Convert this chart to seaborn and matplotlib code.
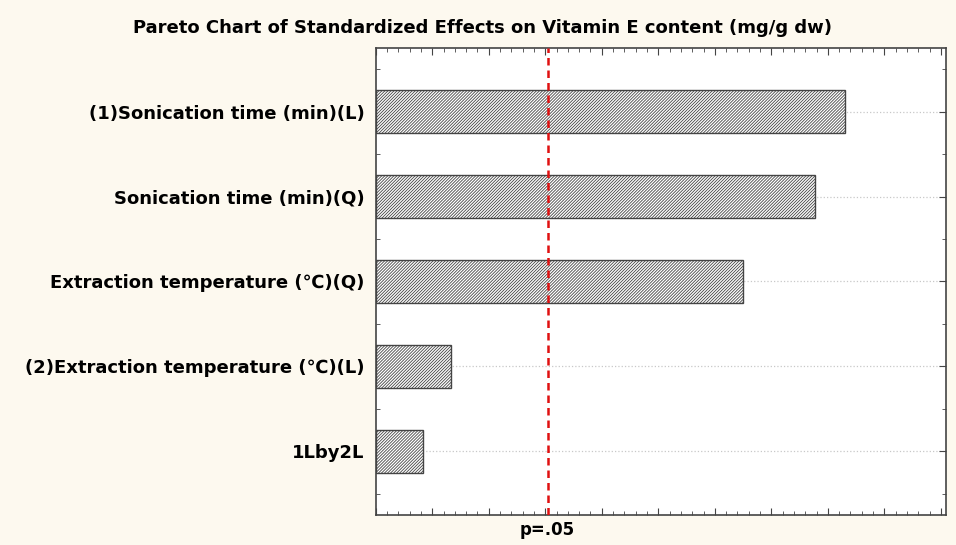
import pandas as pd
import seaborn as sns
import matplotlib.pyplot as plt
from matplotlib.ticker import MultipleLocator, NullFormatter

# effects (sorted, largest first)
terms = ["(1)Sonication time (min)(L)",
         "Sonication time (min)(Q)",
         "Extraction temperature (\u2103)(Q)",
         "(2)Extraction temperature (\u2103)(L)",
         "1Lby2L"]
effects = [8.30, 7.77, 6.50, 1.33, 0.83]
p_crit = 3.04

df = pd.DataFrame({"term": terms, "effect": effects})

sns.set_style("ticks")
plt.rcParams["font.family"] = ["DejaVu Sans"]
plt.rcParams["hatch.linewidth"] = 0.6
plt.rcParams["text.color"] = "black"

fig = plt.figure(figsize=(9.56, 5.45), dpi=100, facecolor="#fdf9ef")
ax = fig.add_axes([0.393, 0.055, 0.5965, 0.857])
ax.set_facecolor("white")

sns.barplot(data=df, x="effect", y="term", orient="h", width=0.5,
            color="white", edgecolor="#444444", linewidth=1.0, ax=ax)
for p in ax.patches:
    p.set_hatch("///////////")
    p.set_edgecolor("#444444")

# significance line
ax.axvline(p_crit, color="#e01010", linestyle=(0, (3, 2)), linewidth=1.8, zorder=5)
ax.text(p_crit, -0.012, "p=.05", transform=ax.get_xaxis_transform(),
        ha="center", va="top", fontsize=12, fontweight="bold")

ax.set_xlim(0, 10.09)
ax.set_ylim(4.75, -0.75)
ax.xaxis.set_major_locator(MultipleLocator(1))
ax.xaxis.set_minor_locator(MultipleLocator(0.2))
ax.xaxis.set_major_formatter(NullFormatter())
ax.yaxis.set_minor_locator(MultipleLocator(0.5))
ax.tick_params(axis="both", which="both", direction="in", top=True, right=True,
               color="#444444")
ax.tick_params(axis="both", which="major", length=5)
ax.tick_params(axis="both", which="minor", length=3)
ax.tick_params(axis="y", which="major", labelsize=13, pad=8, labelcolor="black")
for lab in ax.get_yticklabels():
    lab.set_fontweight("bold")

ax.grid(axis="y", which="major", linestyle=":", color="#c8c8c8", linewidth=0.9)
ax.set_axisbelow(True)
for s in ax.spines.values():
    s.set_color("#444444")
    s.set_linewidth(1.2)

ax.set_xlabel("")
ax.set_ylabel("")
fig.text(0.505, 0.948, "Pareto Chart of Standardized Effects on Vitamin E content (mg/g dw)",
         ha="center", va="center", fontsize=13, fontweight="bold")

fig.savefig("out.png", dpi=100, facecolor=fig.get_facecolor())
